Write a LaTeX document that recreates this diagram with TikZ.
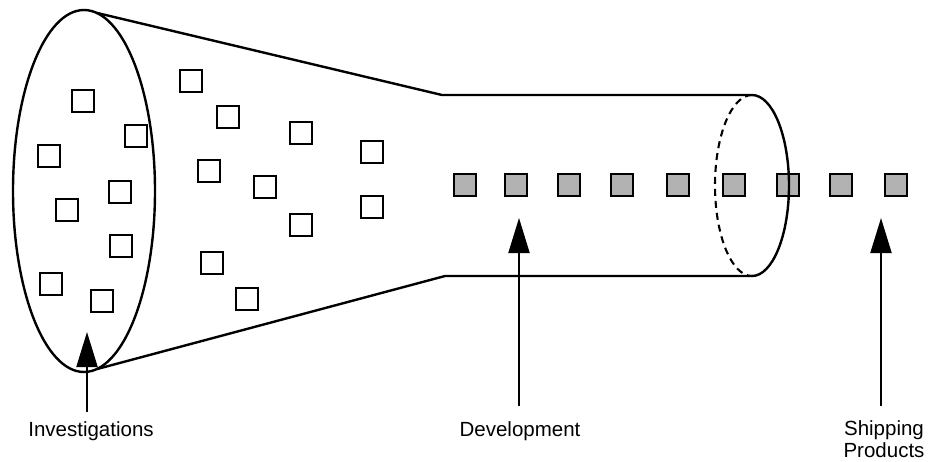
\documentclass[tikz,border=0pt]{standalone}
\usepackage{fontspec}
\setmainfont{Liberation Sans}
\usetikzlibrary{arrows.meta,shapes.geometric}
\begin{document}
\begin{tikzpicture}[x=1pt,y=-1pt,
  outline/.style={line width=2.4pt, line join=round},
  idea/.style={draw, line width=1.9pt, minimum size=21.5pt, inner sep=0pt, outer sep=0pt},
  item/.style={idea, fill=black!30},
  pointer/.style={line width=2pt, -{Triangle[length=35pt,width=21pt]}},
  lbl/.style={font=\fontsize{20.5}{22}\selectfont, inner sep=0pt, anchor=base},
]
% canvas
\fill[white] (0,0) rectangle (928,461);
\useasboundingbox (0,0) rectangle (928,461);

% wide mouth of the funnel
\node[draw, ellipse, outline, minimum width=142pt, minimum height=362pt,
      inner sep=0pt, outer sep=0pt] (mouth) at (84,191) {};

% funnel walls and the tube
\coordinate (necktop) at (442,95);
\coordinate (neckbot) at (445,276);
\coordinate (rimtop) at (752,95);
\coordinate (rimbot) at (752,276);
\draw[outline] (mouth.86) -- (necktop) -- (rimtop);
\draw[outline] (mouth.-86) -- (neckbot) -- (rimbot);

% ideas being investigated
\foreach \n/\x/\y in {o1/83/101, o2/136/136, o3/49/156, o4/120/192, o5/67/210,
    o6/121/246, o7/51/284, o8/102/301, o9/191/81, o10/228/117, o11/301/133,
    o12/372/152, o13/209/171, o14/265/187, o15/301/225, o16/372/207,
    o17/212/263, o18/247/299}
  \node[idea] (\n) at (\x,\y) {};

% projects in development
\foreach \n/\x in {g1/465, g2/516, g3/569, g4/622, g5/678, g6/734, g7/788,
    g8/841, g9/896}
  \node[item] (\n) at (\x,185) {};

% tube opening: front half solid, back half dashed
\draw[outline] (rimtop) arc[start angle=90, end angle=-90, x radius=37pt, y radius=90.5pt];
\draw[line width=2.1pt, dash pattern=on 7pt off 5pt]
  (rimtop) arc[start angle=90, end angle=270, x radius=37pt, y radius=90.5pt];

% labels
\node[lbl] (inv) at (91,436.7) {Investigations};
\node[lbl] (dev) at (520,436.5) {Development};
\node[lbl, anchor=north, align=center] (ship) at (884,420) {Shipping\\Products};

% pointers
\coordinate (invtail) at (87,412);
\coordinate (invtip) at (87,332);
\coordinate (devtail) at (519,406);
\coordinate (devtip) at (519,218);
\coordinate (shiptail) at (881,406);
\coordinate (shiptip) at (881,218);
\draw[pointer] (invtail) -- (invtip);
\draw[pointer] (devtail) -- (devtip);
\draw[pointer] (shiptail) -- (shiptip);
\end{tikzpicture}
\end{document}
